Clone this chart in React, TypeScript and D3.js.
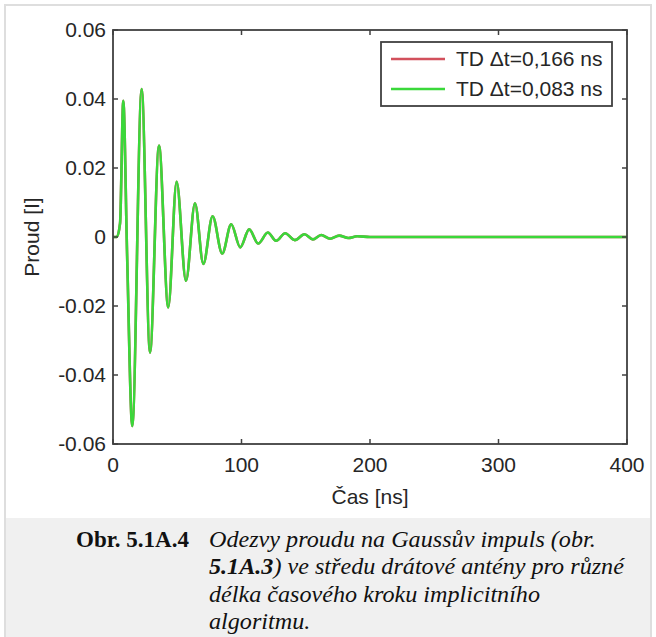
import React from "react";
import * as d3 from "d3";

// ---- data ----
const timeNs = [0, 3, 5.5, 8, 11, 15, 22.3, 28.8, 35.8, 43, 49.5, 56.8, 63.8, 70.3, 77.5, 85, 92, 99, 106, 113, 120.5, 127, 134, 141.5, 149, 155.5, 162, 169, 176, 183, 190, 200, 400];
const currentDt166 = [0, 0, 0.004, 0.0395, -0.0055, -0.0548, 0.0429, -0.0335, 0.0265, -0.0204, 0.016, -0.0127, 0.0098, -0.0078, 0.006, -0.0048, 0.0037, -0.003, 0.0022, -0.0019, 0.0013, -0.0011, 0.0011, -0.0009, 0.0008, -0.0007, 0.0006, -0.0005, 0.0004, -0.0003, 0.0002, 0, 0];
const currentDt083 = [0, 0, 0.004, 0.0395, -0.0055, -0.0548, 0.0429, -0.0335, 0.0265, -0.0204, 0.016, -0.0127, 0.0098, -0.0078, 0.006, -0.0048, 0.0037, -0.003, 0.0022, -0.0019, 0.0013, -0.0011, 0.0011, -0.0009, 0.0008, -0.0007, 0.0006, -0.0005, 0.0004, -0.0003, 0.0002, 0, 0];
const xTicks = [0, 100, 200, 300, 400];
const yTicks = [0.06, 0.04, 0.02, 0, -0.02, -0.04, -0.06];
const yTickLabels = ["0.06", "0.04", "0.02", "0", "-0.02", "-0.04", "-0.06"];
const seriesNames = ["TD \u0394t=0,166 ns", "TD \u0394t=0,083 ns"];
const seriesColors = ["#d2505c", "#3ad83a"];
const captionLabel = "Obr. 5.1A.4";
const captionLines = [
  [{ t: "Odezvy proudu na Gaussův impuls (obr.", b: false }],
  [{ t: "5.1A.3", b: true }, { t: ") ve středu drátové antény pro různé", b: false }],
  [{ t: "délka časového kroku implicitního", b: false }],
  [{ t: "algoritmu.", b: false }],
];

const W = 656, H = 637;
const M = { left: 113, right: 627, top: 30, bottom: 444 };
const sans = "'Liberation Sans', Arial, Helvetica, sans-serif";
const serif = "'Liberation Serif', 'Times New Roman', serif";
const axisColor = "#404040";
const textColor = "#262626";
const fs = 21;

export default function App() {
  const x = d3.scaleLinear().domain([0, 400]).range([M.left, M.right]);
  const y = d3.scaleLinear().domain([-0.06, 0.06]).range([M.bottom, M.top]);
  const line = d3
    .line<number>()
    .x((_, i) => x(timeNs[i]))
    .y((d) => y(d))
    .curve(d3.curveMonotoneX);
  const series = [currentDt166, currentDt083];
  const tl = 5;
  return (
    <svg width={W} height={H} style={{ position: "absolute", left: 0, top: 0 }}>
      <rect x={0} y={0} width={W} height={H} fill="#ffffff" />
      <rect x={6} y={518} width={644} height={H - 518} fill="#f0f0f0" />
      <rect x={5} y={5} width={646} height={H + 10} fill="none" stroke="#dedede" strokeWidth={2} />
      {/* plot */}
      <rect x={M.left} y={M.top} width={M.right - M.left} height={M.bottom - M.top} fill="#ffffff" />
      <defs>
        <clipPath id="clip">
          <rect x={M.left} y={M.top - 5} width={M.right - M.left} height={M.bottom - M.top + 10} />
        </clipPath>
      </defs>
      <g clipPath="url(#clip)">
        {series.map((s, k) => (
          <path key={k} d={line(s) || ""} fill="none" stroke={seriesColors[k]} strokeWidth={2.6} strokeLinejoin="round" />
        ))}
      </g>
      {/* ticks */}
      {xTicks.map((t) => (
        <g key={"x" + t}>
          <line x1={x(t)} x2={x(t)} y1={M.bottom} y2={M.bottom - tl} stroke={axisColor} strokeWidth={1.5} />
          <line x1={x(t)} x2={x(t)} y1={M.top} y2={M.top + tl} stroke={axisColor} strokeWidth={1.5} />
          <text x={x(t)} y={472} textAnchor="middle" fontFamily={sans} fontSize={fs} fill={textColor}>
            {t}
          </text>
        </g>
      ))}
      {yTicks.map((t, i) => (
        <g key={"y" + t}>
          <line x1={M.left} x2={M.left + tl} y1={y(t)} y2={y(t)} stroke={axisColor} strokeWidth={1.5} />
          <line x1={M.right} x2={M.right - tl} y1={y(t)} y2={y(t)} stroke={axisColor} strokeWidth={1.5} />
          <text x={106} y={y(t) + 7} textAnchor="end" fontFamily={sans} fontSize={fs} fill={textColor}>
            {yTickLabels[i]}
          </text>
        </g>
      ))}
      <rect x={M.left} y={M.top} width={M.right - M.left} height={M.bottom - M.top} fill="none" stroke={axisColor} strokeWidth={1.8} />
      {/* axis labels */}
      <text x={(M.left + M.right) / 2} y={504} textAnchor="middle" fontFamily={sans} fontSize={fs} fill={textColor}>
        Čas [ns]
      </text>
      <text transform={`translate(39,237) rotate(-90)`} textAnchor="middle" fontFamily={sans} fontSize={fs} fill={textColor}>
        Proud [I]
      </text>
      {/* legend */}
      <rect x={381} y={42} width={231} height={64} fill="#ffffff" stroke={axisColor} strokeWidth={1.8} />
      {seriesNames.map((n, k) => (
        <g key={n}>
          <line x1={391} x2={445} y1={59 + k * 30} y2={59 + k * 30} stroke={seriesColors[k]} strokeWidth={2.6} />
          <text x={456} y={66 + k * 30} fontFamily={sans} fontSize={fs} fill={textColor}>
            {n}
          </text>
        </g>
      ))}
      {/* caption */}
      <text x={76} y={547} fontFamily={serif} fontSize={23} fontWeight="bold" fill="#111">
        {captionLabel}
      </text>
      <g transform="translate(209,0) scale(1.05,1)">
        {captionLines.map((ln, i) => (
          <text key={i} x={0} y={547 + i * 27.5} fontFamily={serif} fontSize={23} fontStyle="italic" fill="#111">
            {ln.map((p, j) => (
              <tspan key={j} fontWeight={p.b ? "bold" : "normal"}>
                {p.t}
              </tspan>
            ))}
          </text>
        ))}
      </g>
    </svg>
  );
}
